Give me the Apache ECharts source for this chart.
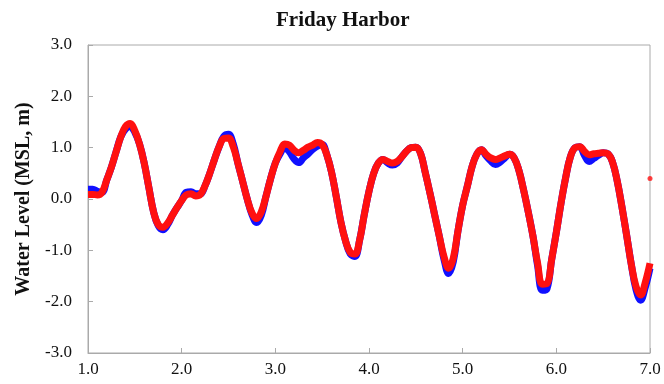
<!DOCTYPE html>
<html>
<head>
<meta charset="utf-8">
<script src="https://cdn.jsdelivr.net/npm/echarts@6/dist/echarts.min.js"></script>
<style>html,body{margin:0;padding:0;background:#fff}#c{width:664px;height:384px}</style>
</head>
<body>
<div id="c"></div>
<script>
// Time (days) for each sample
var days = [];
for (var i = 0; i <= 120; i++) days.push(+(1 + i * 0.05).toFixed(2));

var redLevel = [
 0.09,0.09,0.08,0.13,0.37,0.62,0.92,1.21,1.41,1.47,
 1.33,1.07,0.70,0.22,-0.25,-0.50,-0.55,-0.47,-0.32,-0.17,
 -0.03,0.08,0.10,0.06,0.09,0.26,0.50,0.77,1.02,1.18,
 1.19,1.02,0.70,0.35,0.00,-0.27,-0.38,-0.25,0.05,0.40,
 0.70,0.92,1.07,1.05,0.95,0.90,0.95,1.01,1.05,1.10,
 1.06,0.86,0.52,0.05,-0.45,-0.82,-1.04,-1.07,-0.80,-0.30,
 0.15,0.50,0.70,0.77,0.73,0.70,0.73,0.82,0.93,1.00,
 1.01,0.89,0.52,0.12,-0.30,-0.72,-1.12,-1.35,-1.15,-0.62,
 -0.12,0.25,0.63,0.87,0.96,0.87,0.80,0.77,0.80,0.84,
 0.87,0.80,0.56,0.18,-0.25,-0.72,-1.25,-1.66,-1.65,-1.18,
 -0.65,-0.08,0.42,0.82,1.00,1.02,0.93,0.86,0.88,0.89,
 0.90,0.88,0.72,0.35,-0.15,-0.70,-1.27,-1.70,-1.87,-1.62,
 -1.25
];

var blueLevel = [
 0.19,0.19,0.15,0.13,0.37,0.62,0.92,1.21,1.36,1.41,
 1.30,1.07,0.70,0.22,-0.25,-0.52,-0.60,-0.50,-0.32,-0.17,
 -0.03,0.13,0.14,0.10,0.10,0.26,0.50,0.77,1.02,1.22,
 1.26,1.08,0.70,0.35,0.00,-0.30,-0.46,-0.32,0.05,0.40,
 0.70,0.88,1.00,0.92,0.78,0.71,0.80,0.88,0.97,1.03,
 1.06,0.86,0.52,0.05,-0.45,-0.82,-1.07,-1.12,-0.80,-0.30,
 0.15,0.50,0.70,0.77,0.70,0.66,0.70,0.82,0.93,1.00,
 1.01,0.89,0.52,0.12,-0.30,-0.72,-1.17,-1.45,-1.22,-0.62,
 -0.12,0.25,0.63,0.87,0.96,0.84,0.74,0.67,0.72,0.80,
 0.87,0.80,0.56,0.18,-0.25,-0.72,-1.30,-1.78,-1.75,-1.18,
 -0.65,-0.08,0.42,0.82,1.00,1.02,0.85,0.73,0.79,0.85,
 0.90,0.88,0.72,0.35,-0.15,-0.70,-1.27,-1.76,-1.97,-1.72,
 -1.35
];

var outlierDay = [7.0];
var outlierLevel = [0.40];

var xTicks = [1.0, 2.0, 3.0, 4.0, 5.0, 6.0, 7.0];
var yTicks = [-3.0, -2.0, -1.0, 0.0, 1.0, 2.0, 3.0];

function pairs(xs, ys) { return xs.map(function (x, i) { return [x, ys[i]]; }); }

var font = '"Liberation Serif", "Times New Roman", serif';
var chart = echarts.init(document.getElementById('c'));
chart.setOption({
  animation: false,
  backgroundColor: '#fff',
  title: {
    text: 'Friday Harbor', left: 271, top: 5,
    textStyle: { fontFamily: font, fontWeight: 'bold', fontSize: 21, color: '#111' }
  },
  grid: { left: 88, right: 14, top: 45, bottom: 31, show: true, borderColor: '#aaa', borderWidth: 1 },
  xAxis: {
    type: 'value', min: xTicks[0], max: xTicks[xTicks.length - 1], interval: 1,
    axisLine: { onZero: false, lineStyle: { color: '#aaa' } },
    axisTick: { inside: true, length: 5, lineStyle: { color: '#aaa' } },
    splitLine: { show: false },
    axisLabel: { fontFamily: font, fontSize: 17, color: '#111', margin: 8, formatter: function (v) { return v.toFixed(1); } }
  },
  yAxis: {
    type: 'value', min: yTicks[0], max: yTicks[yTicks.length - 1], interval: 1,
    name: 'Water Level (MSL, m)', nameLocation: 'middle', nameGap: 50, nameRotate: 90,
    nameTextStyle: { fontFamily: font, fontWeight: 'bold', fontSize: 20, color: '#111' },
    axisLine: { show: true, lineStyle: { color: '#aaa' } },
    axisTick: { show: true, inside: true, length: 5, lineStyle: { color: '#aaa' } },
    splitLine: { show: false },
    axisLabel: { fontFamily: font, fontSize: 17, color: '#111', margin: 16, formatter: function (v) { return v.toFixed(1); } }
  },
  series: [
    { type: 'line', data: pairs(days, blueLevel), smooth: 0.4, showSymbol: false,
      lineStyle: { color: '#1010ff', width: 7 }, z: 2 },
    { type: 'line', data: pairs(days, redLevel), smooth: 0.4, showSymbol: false,
      lineStyle: { color: '#ff1010', width: 7 }, z: 3 },
    { type: 'scatter', data: pairs(outlierDay, outlierLevel), symbolSize: 5,
      itemStyle: { color: '#ff1010' }, z: 4 }
  ]
});
</script>
</body>
</html>
